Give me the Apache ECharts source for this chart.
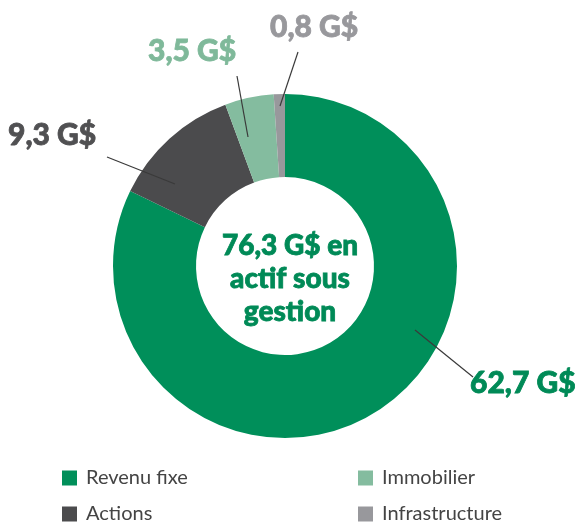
<!DOCTYPE html>
<html>
<head>
<meta charset="utf-8">
<script src="https://cdn.jsdelivr.net/npm/echarts@6/dist/echarts.min.js"></script>
<style>
  html, body { margin: 0; padding: 0; background: #fff; }
  #main { width: 583px; height: 523px; }
</style>
</head>
<body>
<div id="main"></div>
<script>
// données (G$)
var categories = ['Revenu fixe', 'Actions', 'Immobilier', 'Infrastructure'];
var values = [62.7, 9.3, 3.5, 0.8];
var valueLabels = ['62,7 G$', '9,3 G$', '3,5 G$', '0,8 G$'];
var colors = ['#008f5a', '#4b4b4d', '#84bc9f', '#98989c'];
var labelColors = ['#008a57', '#505052', '#7fb99a', '#98989c'];
var centerLines = ['76,3 G$ en', 'actif sous', 'gestion'];

// position des étiquettes + lignes de rappel
var labelPos = [
  { x: 470, y: 383, line: [[415, 330], [473, 377]] },
  { x: 8, y: 135, line: [[175, 184], [107, 157]] },
  { x: 148, y: 51, line: [[248, 137], [237, 76]] },
  { x: 270, y: 27, line: [[280, 106], [298, 52]] }
];

var seriesData = categories.map(function (c, i) {
  return {
    name: c,
    value: values[i],
    itemStyle: { color: colors[i] },
    label: { color: labelColors[i], textBorderColor: labelColors[i] }
  };
});

var leaderLines = labelPos.map(function (p) {
  return {
    type: 'line',
    z: 100,
    shape: { x1: p.line[0][0], y1: p.line[0][1], x2: p.line[1][0], y2: p.line[1][1] },
    style: { stroke: '#3a3a3a', lineWidth: 1.2 }
  };
});

var legendBase = {
  orient: 'vertical',
  top: 463,
  height: 60,
  itemWidth: 15,
  itemHeight: 15,
  itemGap: 16,
  icon: 'rect',
  textStyle: { fontFamily: 'Lato', fontSize: 20, color: '#444', padding: [0, 0, 0, 4] }
};

var myChart = echarts.init(document.getElementById('main'));
var option = {
  animation: false,
  title: {
    text: centerLines.join('\n'),
    left: 285,
    top: 224,
    textAlign: 'center',
    textStyle: {
      fontFamily: 'Lato',
      fontWeight: 900,
      fontSize: 28,
      lineHeight: 33,
      color: '#008a57',
      textBorderColor: '#008a57',
      textBorderWidth: 0.8
    }
  },
  legend: [
    Object.assign({ data: ['Revenu fixe', 'Actions'], left: 57 }, legendBase),
    Object.assign({ data: ['Immobilier', 'Infrastructure'], left: 353 }, legendBase)
  ],
  graphic: leaderLines,
  series: [{
    type: 'pie',
    center: [285, 266],
    radius: [89, 172],
    startAngle: 90,
    clockwise: true,
    silent: true,
    data: seriesData,
    label: {
      show: true,
      position: 'outside',
      formatter: function (p) { return valueLabels[p.dataIndex]; },
      fontFamily: 'Lato',
      fontWeight: 900,
      fontSize: 30,
      textBorderWidth: 0.8
    },
    labelLine: { show: false },
    labelLayout: function (params) {
      var p = labelPos[params.dataIndex];
      return { x: p.x, y: p.y, verticalAlign: 'middle', align: 'left' };
    }
  }]
};
myChart.setOption(option);
</script>
</body>
</html>
